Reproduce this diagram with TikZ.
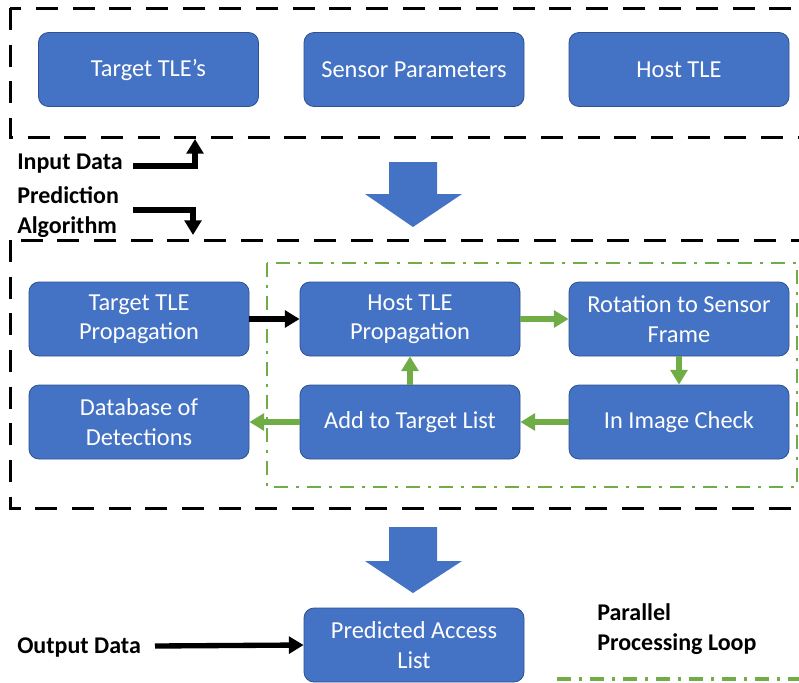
\documentclass[tikz,border=0pt]{standalone}
\usepackage{fontspec}
\setmainfont{Carlito}
\usetikzlibrary{arrows.meta}
\definecolor{boxblue}{HTML}{4472C4}
\definecolor{boxedge}{HTML}{2F528F}
\definecolor{loopgreen}{HTML}{70AD47}
\tikzset{
  stepbox/.style={draw=boxedge, line width=0.6pt, fill=boxblue, rounded corners=7.5pt,
    minimum width=165pt, minimum height=55.5pt, inner sep=0pt, text=white, align=center,
    font=\fontsize{18.3}{22}\selectfont},
  tag/.style={anchor=west, inner sep=0pt, align=left, font=\fontsize{18}{22.5}\selectfont\bfseries},
  groupline/.style={line width=2.25pt, dash pattern=on 16.5pt off 11pt},
  loopline/.style={draw=loopgreen, line width=1.8pt, dash pattern=on 10.5pt off 6pt on 2.25pt off 6pt},
  blackarrow/.style={line width=4pt, -{Triangle[length=11pt,width=12.5pt]}},
  greenarrow/.style={draw=loopgreen, line width=4pt, -{Triangle[length=11pt,width=12.5pt]}},
  bigarrow/.style={fill=boxblue},
}
\begin{document}
\begin{tikzpicture}[x=0.75pt, y=-0.75pt]
\useasboundingbox (0,0) rectangle (799,682);
\clip (0,0) rectangle (799,682);
\fill[white] (0,0) rectangle (799,682);

% group outlines
\draw[groupline] (10,8) rectangle (840,137);
\draw[groupline] (10,240) rectangle (840,508);
\draw[loopline] (267,263) rectangle (797,487);

% input blocks
\node[stepbox] (ttle) at (148.5,69.5) {Target TLE’s};
\node[stepbox] (sens) at (414,69.5) {Sensor Parameters};
\node[stepbox] (htle) at (679,69.5) {Host TLE};

% prediction algorithm blocks
\node[stepbox] (tprop) at (139,319) {Target TLE\\Propagation};
\node[stepbox] (hprop) at (410,319) {Host TLE\\Propagation};
\node[stepbox] (rot)   at (679,319) {Rotation to Sensor\\Frame};
\node[stepbox] (dbase) at (139,422) {Database of\\Detections};
\node[stepbox] (addt)  at (410,422) {Add to Target List};
\node[stepbox] (chk)   at (679,422) {In Image Check};

% output block
\node[stepbox] (pal) at (414,645) {Predicted Access\\List};

% side labels
\node[tag] (inlbl) at (17,164) {Input Data};
\node[tag] (palbl) at (17,212) {Prediction\\Algorithm};
\node[tag] (outlbl) at (17,648) {Output Data};
\node[tag] (looplbl) at (597,629) {Parallel\\Processing Loop};

% label pointers
\coordinate (inStart) at (133,166);
\coordinate (inTip) at (195,139);
\coordinate (paStart) at (133,210);
\coordinate (paTip) at (193,235);
\coordinate (outStart) at (155,646);
\draw[blackarrow] (inStart) -| (inTip);
\draw[blackarrow] (paStart) -| (paTip);
\draw[blackarrow] (outStart) -- (pal.west);

% flow between blocks
\draw[blackarrow] (tprop) -- (hprop);
\draw[greenarrow] (hprop) -- (rot);
\draw[greenarrow] (rot) -- (chk);
\draw[greenarrow] (chk) -- (addt);
\draw[greenarrow] (addt) -- (hprop);
\draw[greenarrow] (addt) -- (dbase);

% block arrows between stages
\fill[bigarrow] (389,162) -- (437,162) -- (437,194) -- (462,194) -- (413,227) -- (365,194) -- (389,194) -- cycle;
\fill[bigarrow] (389,527) -- (437,527) -- (437,561) -- (462,561) -- (413,593) -- (365,561) -- (389,561) -- cycle;

% legend line for the loop
\coordinate (legA) at (557,679);
\coordinate (legB) at (820,679);
\draw[loopline, line width=3pt] (legA) -- (legB);
\end{tikzpicture}
\end{document}
